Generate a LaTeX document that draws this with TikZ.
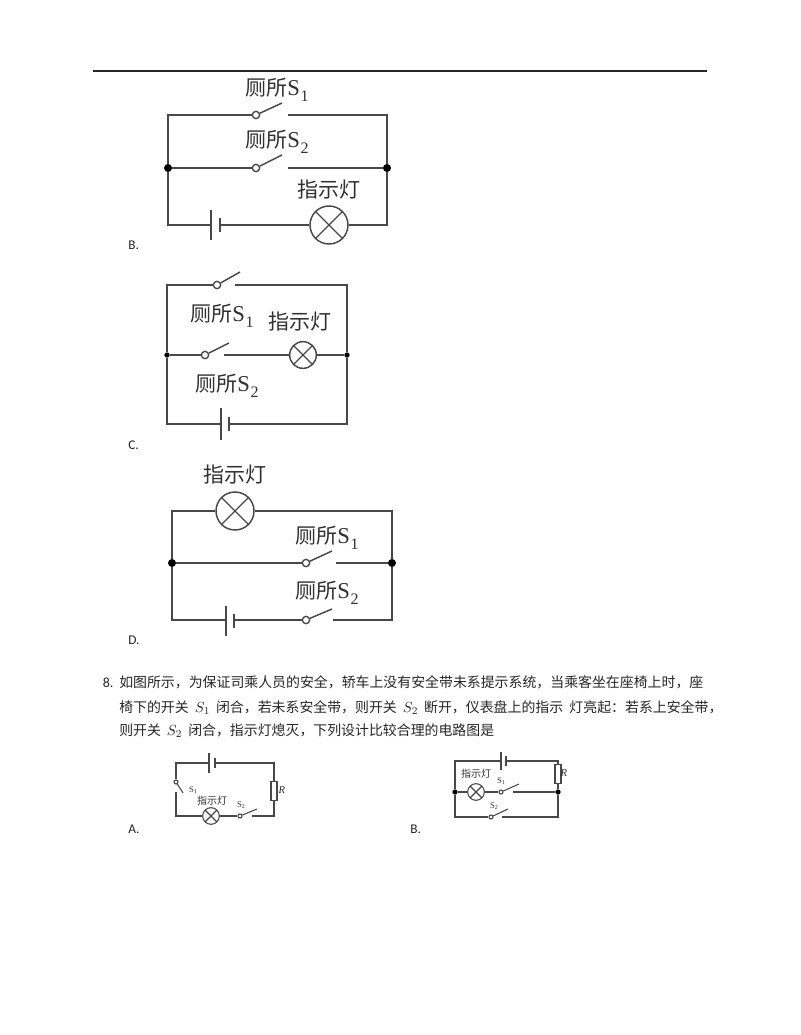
\documentclass[tikz,border=0pt]{standalone}
\usepackage{fontspec}
\setmainfont{Carlito}
\newfontfamily\cjk{Noto Sans CJK SC}
\newfontfamily\lbl{Liberation Serif}
\definecolor{wirecol}{HTML}{484848}
\definecolor{inkcol}{HTML}{303030}
\newcommand{\sname}[2]{{\cjk #1}{\lbl\fontsize{17}{17}\selectfont S}\hspace{0.6pt}\raisebox{-4.5pt}{\lbl\fontsize{12}{12}\selectfont #2}}
\newcommand{\tinys}[1]{S\raisebox{-1pt}{\fontsize{4.5}{5}\selectfont #1}}
\newcommand{\qfont}{\cjk\fontsize{10.43}{12}\selectfont}
\newcommand{\qsym}[1]{\hspace{4.5pt}{\fontsize{11}{12}\selectfont$S_{#1}$}\hspace{4.5pt}}
\begin{document}
\begin{tikzpicture}
            [x=0.75pt, y=-0.75pt,
            wire/.style = {draw=wirecol, line width=1.1pt},
            thin wire/.style = {draw=wirecol, line width=0.8pt},
            point/.style = {circle, fill=black, inner sep=0pt, minimum size=6pt},
            small point/.style = {circle, fill=black, inner sep=0pt, minimum size=4pt},
            term/.style = {circle, draw=wirecol, fill=white, line width=1pt, inner sep=0pt, minimum size=5.5pt},
            small term/.style = {circle, draw=wirecol, fill=white, line width=0.8pt, inner sep=0pt, minimum size=3pt},
            lamp/.style = {circle, draw=wirecol, line width=1.1pt, inner sep=0pt,
                path picture={\draw[wirecol, line width=1pt] (path picture bounding box.north west) -- (path picture bounding box.south east);
                \draw[wirecol, line width=1pt] (path picture bounding box.north east) -- (path picture bounding box.south west);}},
            plate/.style = {fill=wirecol, inner sep=0pt, minimum width=1.1pt},
            res/.style = {draw=wirecol, fill=white, line width=1pt, inner sep=0pt, minimum width=4.5pt, minimum height=14pt},
            wcname/.style = {anchor=west, inner sep=0pt, text=inkcol, font=\fontsize{15.75}{16}\selectfont},
            lampname/.style = {inner sep=0pt, text=inkcol, font=\cjk\fontsize{15.75}{16}\selectfont},
            tiny name/.style = {inner sep=0pt, text=inkcol, font=\lbl\fontsize{6.5}{7}\selectfont},
            qline/.style = {anchor=base west, inner sep=0pt, text=black!85},
            opt/.style = {anchor=west, inner sep=0pt, text=black!85, font=\fontsize{10}{12}\selectfont}]
            \useasboundingbox (0,0) rectangle (800,1035);
            \coordinate (ruleL) at (93,71);
            \coordinate (ruleR) at (707,71);
            \draw[draw=black!85, line width=1pt] (ruleL) -- (ruleR);

            \coordinate (bTL) at (168,115);
            \coordinate (bTR) at (387,115);
            \coordinate (bBL) at (168,225);
            \coordinate (bBR) at (387,225);
            \node[point] (bDotL) at (168,168) {};
            \node[point] (bDotR) at (387,168) {};
            \node[term] (bS1) at (256,115) {};
            \node[term] (bS2) at (256,168) {};
            \coordinate (bTip1) at (282,103);
            \coordinate (bTip2) at (282,155);
            \coordinate (bEnd1) at (288,115);
            \coordinate (bEnd2) at (288,168);
            \node[plate, minimum height=22pt] (bBat1) at (211,225) {};
            \node[plate, minimum height=10pt] (bBat2) at (220,225) {};
            \node[lamp, minimum size=28.5pt] (bLamp) at (329,225) {};
            \draw[wire] (bS1) -- (bTL) -- (bDotL);
            \draw[wire] (bEnd1) -- (bTR) -- (bDotR);
            \draw[wire] (bS1) -- (bTip1);
            \draw[wire] (bDotL) -- (bS2);
            \draw[wire] (bS2) -- (bTip2);
            \draw[wire] (bEnd2) -- (bDotR);
            \draw[wire] (bDotL) -- (bBL) -- (bBat1);
            \draw[wire] (bBat2) -- (bLamp);
            \draw[wire] (bLamp) -- (bBR) -- (bDotR);
            \node[wcname] (bName1) at (245,90) {\sname{厕所}{1}};
            \node[wcname] (bName2) at (245,142) {\sname{厕所}{2}};
            \node[lampname] (bLampName) at (329,190) {指示灯};
            \node[opt] (bOpt) at (128,245) {B.};

            \coordinate (cTL) at (167,285);
            \coordinate (cTR) at (347,285);
            \coordinate (cBL) at (167,424);
            \coordinate (cBR) at (347,424);
            \node[small point] (cDotL) at (167,355) {};
            \node[small point] (cDotR) at (347,355) {};
            \node[term] (cS1) at (217,285) {};
            \node[term] (cS2) at (205,355) {};
            \coordinate (cTip1) at (240,272);
            \coordinate (cTip2) at (229,343);
            \coordinate (cEnd1) at (235,285);
            \coordinate (cEnd2) at (224,355);
            \node[plate, minimum height=24pt] (cBat1) at (221,424) {};
            \node[plate, minimum height=10pt] (cBat2) at (229,424) {};
            \node[lamp, minimum size=20pt] (cLamp) at (303,355) {};
            \draw[wire] (cS1) -- (cTL) -- (cDotL);
            \draw[wire] (cEnd1) -- (cTR) -- (cDotR);
            \draw[wire] (cS1) -- (cTip1);
            \draw[wire] (cDotL) -- (cS2);
            \draw[wire] (cS2) -- (cTip2);
            \draw[wire] (cEnd2) -- (cLamp);
            \draw[wire] (cLamp) -- (cDotR);
            \draw[wire] (cDotL) -- (cBL) -- (cBat1);
            \draw[wire] (cBat2) -- (cBR) -- (cDotR);
            \node[wcname] (cName1) at (190,316) {\sname{厕所}{1}};
            \node[lampname] (cLampName) at (300,322) {指示灯};
            \node[wcname] (cName2) at (195,386) {\sname{厕所}{2}};
            \node[opt] (cOpt) at (128,445) {C.};

            \coordinate (dTL) at (172,511);
            \coordinate (dTR) at (392,511);
            \coordinate (dBL) at (172,620);
            \coordinate (dBR) at (392,620);
            \node[point] (dDotL) at (172,563) {};
            \node[point] (dDotR) at (392,563) {};
            \node[lamp, minimum size=28.5pt] (dLamp) at (235,511) {};
            \node[term] (dS1) at (306,563) {};
            \node[term] (dS2) at (306,620) {};
            \coordinate (dTip1) at (332,551);
            \coordinate (dTip2) at (332,609);
            \coordinate (dEnd1) at (336,563);
            \coordinate (dEnd2) at (333,620);
            \node[plate, minimum height=23pt] (dBat1) at (226,621) {};
            \node[plate, minimum height=10pt] (dBat2) at (234,621) {};
            \draw[wire] (dLamp) -- (dTL) -- (dDotL);
            \draw[wire] (dLamp) -- (dTR) -- (dDotR);
            \draw[wire] (dDotL) -- (dS1);
            \draw[wire] (dS1) -- (dTip1);
            \draw[wire] (dEnd1) -- (dDotR);
            \draw[wire] (dDotL) -- (dBL) -- (dBL-|dBat1);
            \draw[wire] (dBat2.east|-dBL) -- (dS2);
            \draw[wire] (dS2) -- (dTip2);
            \draw[wire] (dEnd2) -- (dBR) -- (dDotR);
            \node[lampname] (dLampName) at (235,475) {指示灯};
            \node[wcname] (dName1) at (295,538) {\sname{厕所}{1}};
            \node[wcname] (dName2) at (295,593) {\sname{厕所}{2}};
            \node[opt] (dOpt) at (128,640) {D.};

            \node[qline, font=\fontsize{10.5}{12}\selectfont] (qNum) at (102.5,687) {8.};
            \node[qline, font=\qfont] (qOne) at (119,687) {如图所示，为保证司乘人员的安全，轿车上没有安全带未系提示系统，当乘客坐在座椅上时，座};
            \node[qline, font=\qfont] (qTwo) at (119,712) {椅下的开关\qsym{1}闭合，若未系安全带，则开关\qsym{2}断开，仪表盘上的指示\hspace{4.7pt}灯亮起：若系上安全带，};
            \node[qline, font=\qfont] (qThree) at (119,735.5) {则开关\qsym{2}闭合，指示灯熄灭，下列设计比较合理的电路图是};

            \coordinate (eTL) at (176,763);
            \coordinate (eTR) at (274,763);
            \coordinate (eBL) at (176,816);
            \coordinate (eBR) at (274,816);
            \node[plate, minimum height=15pt] (eBat1) at (209,763) {};
            \node[plate, minimum height=7pt] (eBat2) at (215,763) {};
            \node[res] (eRes) at (274,791) {};
            \node[small term] (eS1) at (176,782) {};
            \coordinate (eTip1) at (183,793);
            \coordinate (eEnd1) at (176,792);
            \node[lamp, minimum size=12.5pt, line width=0.8pt] (eLamp) at (211,816) {};
            \node[small term] (eS2) at (240,816) {};
            \coordinate (eTip2) at (257,809);
            \coordinate (eEnd2) at (252,816);
            \draw[thin wire] (eBat1) -- (eTL) -- (eS1);
            \draw[thin wire] (eS1) -- (eTip1);
            \draw[thin wire] (eEnd1) -- (eBL) -- (eLamp);
            \draw[thin wire] (eLamp) -- (eS2);
            \draw[thin wire] (eS2) -- (eTip2);
            \draw[thin wire] (eEnd2) -- (eBR) -- (eRes);
            \draw[thin wire] (eRes) -- (eTR) -- (eBat2);
            \node[tiny name] (eName1) at (193,790) {\tinys{1}};
            \node[tiny name, font=\cjk\fontsize{7.5}{8}\selectfont] (eLampName) at (212,801) {指示灯};
            \node[tiny name] (eName2) at (241,805) {\tinys{2}};
            \node[tiny name, font=\lbl\itshape\fontsize{8}{8}\selectfont] (eRName) at (282,790) {R};
            \node[opt] (eOpt) at (128,829) {A.};

            \coordinate (fTL) at (455,761);
            \coordinate (fTR) at (558,761);
            \coordinate (fBL) at (455,817);
            \coordinate (fBR) at (558,817);
            \node[small point] (fDotL) at (455,792) {};
            \node[small point] (fDotR) at (558,792) {};
            \node[plate, minimum height=14pt] (fBat1) at (501,761) {};
            \node[plate, minimum height=7pt] (fBat2) at (506,761) {};
            \node[res] (fRes) at (558,774) {};
            \node[lamp, minimum size=12.5pt, line width=0.8pt] (fLamp) at (476,792) {};
            \node[small term] (fS1) at (501,792) {};
            \coordinate (fTip1) at (519,784);
            \coordinate (fEnd1) at (513,792);
            \node[small term] (fS2) at (491,817) {};
            \coordinate (fTip2) at (508,809);
            \coordinate (fEnd2) at (502,817);
            \draw[thin wire] (fDotL) -- (fTL) -- (fBat1);
            \draw[thin wire] (fBat2) -- (fTR) -- (fRes);
            \draw[thin wire] (fRes) -- (fDotR);
            \draw[thin wire] (fDotL) -- (fLamp);
            \draw[thin wire] (fLamp) -- (fS1);
            \draw[thin wire] (fS1) -- (fTip1);
            \draw[thin wire] (fEnd1) -- (fDotR);
            \draw[thin wire] (fDotL) -- (fBL) -- (fS2);
            \draw[thin wire] (fS2) -- (fTip2);
            \draw[thin wire] (fEnd2) -- (fBR) -- (fDotR);
            \node[tiny name, font=\cjk\fontsize{7.5}{8}\selectfont] (fLampName) at (476,774) {指示灯};
            \node[tiny name] (fName1) at (501,781) {\tinys{1}};
            \node[tiny name] (fName2) at (494,806) {\tinys{2}};
            \node[tiny name, font=\lbl\itshape\fontsize{8}{8}\selectfont] (fRName) at (564,773) {R};
            \node[opt] (fOpt) at (410,829) {B.};
        \end{tikzpicture}
\end{document}
